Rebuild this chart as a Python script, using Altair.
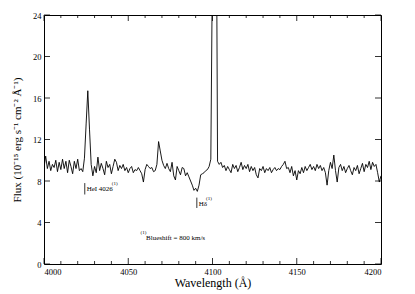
import altair as alt
import pandas as pd

wavelength = list(range(4000, 4201))
flux = [
    9.3, 10.4, 9.2, 9.9, 9.0, 9.6, 9.3, 10.0, 8.9, 9.8,
    9.1, 10.1, 9.2, 9.9, 8.8, 10.0, 9.4, 8.7, 9.9, 9.2,
    10.1, 9.0, 9.2, 8.9, 10.2, 13.5, 16.7, 13.0, 9.6, 8.5,
    9.4, 8.8, 10.3, 9.0, 9.7, 9.2, 8.6, 9.9, 9.3, 9.6,
    8.7, 9.4, 10.1, 9.8, 9.0, 9.5, 9.2, 9.6, 9.0, 9.3,
    8.8, 9.2, 9.4, 8.8, 9.1, 9.0, 9.3, 9.0, 8.7, 7.9,
    9.1, 9.6, 9.4, 9.2, 9.3, 8.9, 9.0, 9.6, 11.8, 10.9,
    10.0, 9.5, 9.2, 9.7, 9.2, 8.9, 9.8, 8.5, 8.1, 9.4,
    9.0, 8.6, 9.3, 9.2, 8.5, 8.8, 8.4, 8.0, 7.6, 7.1,
    7.3, 7.0, 7.6, 8.6, 8.7, 8.8, 9.0, 9.1, 9.4, 10.1,
    30.0, 45.0, 45.0, 9.9, 9.6, 9.8, 9.3, 9.5, 9.0, 9.4,
    9.1, 8.8, 9.6, 9.2, 9.5, 8.9, 9.3, 9.8, 9.1, 9.5,
    9.2, 9.6, 8.9, 9.4, 9.0, 9.3, 8.6, 8.3, 9.2, 9.0,
    9.4, 8.8, 9.2, 9.0, 9.3, 8.8, 9.1, 9.3, 9.0, 9.2,
    9.1, 9.4, 9.6, 9.9, 9.2, 9.3, 8.8, 9.4, 8.5, 9.0,
    8.1, 9.0, 8.7, 9.3, 8.8, 9.4, 9.0, 9.3, 9.6, 9.1,
    9.4, 9.0, 9.6, 9.2, 9.5, 9.0, 9.3, 8.8, 7.6, 9.0,
    9.8, 9.2, 10.5, 9.0, 7.9, 9.3, 9.6, 9.0, 9.4, 8.8,
    9.2, 9.5, 9.0, 8.6, 9.3, 9.0, 9.5, 8.7, 9.2, 9.7,
    8.9, 9.6, 9.3, 9.9, 9.1, 9.8, 9.4, 9.6, 8.8, 7.9,
    8.5,
]

x_major = [4000, 4050, 4100, 4150, 4200]
x_minor = [v for v in range(4010, 4200, 10) if v % 50 != 0]
y_major = [0, 4, 8, 12, 16, 20, 24]

W, H = 337, 249
FONT = "Liberation Serif"

df = pd.DataFrame({"wavelength": wavelength, "flux": flux})
xs = alt.Scale(domain=[4000, 4200], nice=False, zero=False)
ys = alt.Scale(domain=[0, 24], nice=False, zero=True)

x_axis = alt.Axis(values=x_major, title="Wavelength (Å)", format="d",
                  ticks=False, domain=False, grid=False, labelPadding=3,
                  labelFont=FONT, titleFont=FONT, labelFontSize=8.5,
                  labelColor="black", titleColor="black",
                  titlePadding=2, titleFontSize=12, titleFontWeight="normal")
y_axis = alt.Axis(values=y_major, title="Flux (10⁻¹⁵ erg s⁻¹ cm⁻² Å⁻¹)",
                  ticks=False, domain=False, grid=False, labelPadding=3,
                  labelFont=FONT, titleFont=FONT, labelFontSize=8.5,
                  labelColor="black", titleColor="black",
                  titlePadding=10, titleFontSize=11, titleFontWeight="normal")

spectrum = alt.Chart(df).mark_line(color="black", strokeWidth=0.9, clip=True).encode(
    x=alt.X("wavelength:Q", scale=xs, axis=x_axis),
    y=alt.Y("flux:Q", scale=ys, axis=y_axis),
)

xmaj = pd.DataFrame({"wavelength": x_major})
xmin = pd.DataFrame({"wavelength": x_minor})
ymaj = pd.DataFrame({"flux": y_major})

def xticks(data, length):
    bottom = alt.Chart(data).mark_rule(color="black", strokeWidth=0.8).encode(
        x=alt.X("wavelength:Q", scale=xs, axis=x_axis),
        y=alt.value(H), y2=alt.value(H - length))
    top = alt.Chart(data).mark_rule(color="black", strokeWidth=0.8).encode(
        x=alt.X("wavelength:Q", scale=xs, axis=x_axis),
        y=alt.value(0), y2=alt.value(length))
    return [bottom, top]

def yticks(data, length):
    left = alt.Chart(data).mark_rule(color="black", strokeWidth=0.8).encode(
        y=alt.Y("flux:Q", scale=ys, axis=y_axis),
        x=alt.value(0), x2=alt.value(length))
    right = alt.Chart(data).mark_rule(color="black", strokeWidth=0.8).encode(
        y=alt.Y("flux:Q", scale=ys, axis=y_axis),
        x=alt.value(W), x2=alt.value(W - length))
    return [left, right]

base = alt.Chart(pd.DataFrame({"a": [0]}))

def bar(xv, y1, y2):
    return base.mark_rule(color="black", strokeWidth=0.8).encode(
        x=alt.X(datum=xv, scale=xs, axis=x_axis),
        y=alt.Y(datum=y1, scale=ys, axis=y_axis),
        y2=alt.Y2(datum=y2))

def label(txt, xv, yv, size):
    return base.mark_text(text=txt, align="left", baseline="middle",
                          fontSize=size, font=FONT, color="black").encode(
        x=alt.X(datum=xv, scale=xs, axis=x_axis),
        y=alt.Y(datum=yv, scale=ys, axis=y_axis))

annotations = [
    bar(4024.2, 7.8, 6.7),
    label("HeI 4026", 4025.3, 7.2, 7),
    label("(1)", 4040.2, 7.8, 5),
    bar(4090.7, 6.4, 5.4),
    label("Hδ", 4091.8, 5.8, 7),
    label("(1)", 4096.2, 6.4, 5),
    label("(1)", 4057.3, 3.05, 5),
    label("Blueshift = 800 km/s", 4060.6, 2.55, 7),
]

layers = [spectrum] + xticks(xmaj, 6) + xticks(xmin, 3) + yticks(ymaj, 6) + annotations

chart = alt.layer(*layers).properties(
    width=W, height=H,
    background="white",
    autosize=alt.AutoSizeParams(type="none"),
    padding={"left": 36, "top": 7, "right": 26, "bottom": 28},
).configure_view(stroke="black", strokeWidth=1)

chart.save("out.html", embed_options={"renderer": "svg", "actions": False})
